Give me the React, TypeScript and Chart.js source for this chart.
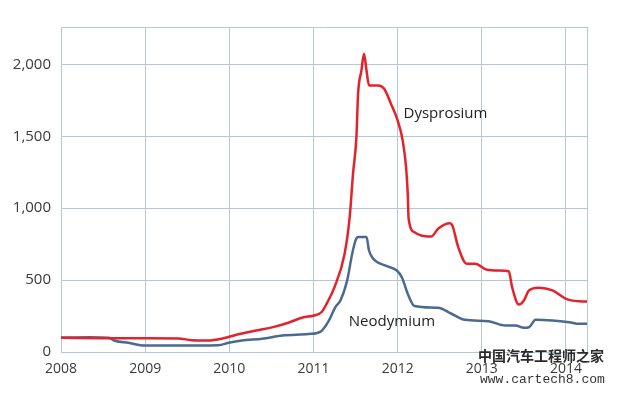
import React, { useEffect, useRef } from "react";
import { Chart, registerables } from "chart.js";

Chart.register(...registerables);

// Dysprosium price (x: year, y: value)
const dyYears = [
  2008.0, 2008.2, 2008.6, 2008.95, 2009.4, 2009.55, 2009.75, 2009.92, 2010.12, 2010.32,
  2010.52, 2010.71, 2010.87, 2011.01, 2011.1, 2011.16, 2011.25, 2011.37, 2011.43, 2011.47,
  2011.51, 2011.53, 2011.57, 2011.6, 2011.63, 2011.66, 2011.77, 2011.84, 2011.92, 2012.0,
  2012.06, 2012.1, 2012.12, 2012.13, 2012.2, 2012.28, 2012.4, 2012.48, 2012.62, 2012.65,
  2012.72, 2012.82, 2012.92, 2013.06, 2013.2, 2013.32, 2013.36, 2013.44, 2013.5, 2013.56,
  2013.68, 2013.84, 2014.0, 2014.16, 2014.28,
];
const dyValues = [
  100, 97, 96, 95, 94, 82, 80, 94, 125, 150,
  173, 205, 240, 254, 280, 340, 451, 683, 938, 1240,
  1494, 1796, 1958, 2074, 1958, 1854, 1854, 1831, 1727, 1610,
  1471, 1286, 1100, 930, 833, 810, 803, 857, 896, 880,
  729, 614, 614, 572, 567, 562, 451, 330, 358, 428,
  447, 428, 370, 353, 351,
];

// Neodymium price
const ndYears = [
  2008.0, 2008.33, 2008.57, 2008.64, 2008.8, 2009.0, 2009.32, 2009.87, 2009.99, 2010.15,
  2010.39, 2010.63, 2010.94, 2011.08, 2011.18, 2011.26, 2011.32, 2011.4, 2011.46, 2011.5,
  2011.53, 2011.63, 2011.66, 2011.71, 2011.85, 2011.99, 2012.05, 2012.12, 2012.2, 2012.48,
  2012.64, 2012.8, 2013.08, 2013.28, 2013.4, 2013.5, 2013.56, 2013.64, 2013.84, 2014.04,
  2014.16, 2014.28,
];
const ndValues = [
  99, 103, 99, 78, 64, 45, 45, 47, 64, 80,
  92, 115, 125, 140, 215, 312, 358, 497, 683, 776,
  799, 799, 706, 648, 602, 567, 520, 405, 320, 307,
  266, 224, 214, 184, 184, 168, 172, 224, 219, 207,
  196, 196,
];

const seriesNames = ["Dysprosium", "Neodymium"];
// label anchor points in data coordinates (year, value)
const labelYears = [2012.07, 2011.42];
const labelValues = [1659, 212];

const xTicks = [2008, 2009, 2010, 2011, 2012, 2013, 2014];
const yTicks = [0, 500, 1000, 1500, 2000];

const xMin = 2008;
const xMax = 2014.25;
const yMax = 2260;

const RED = "#e3232c";
const BLUE = "#4a6a8f";
const GRID = "#b6c8d5";

const labelPlugin = {
  id: "seriesLabels",
  afterDatasetsDraw(chart: any) {
    const { ctx, scales } = chart;
    ctx.save();
    ctx.font = "15px 'Open Sans'";
    ctx.fillStyle = "#222";
    ctx.textAlign = "left";
    ctx.textBaseline = "middle";
    seriesNames.forEach((name, i) => {
      ctx.fillText(name, scales.x.getPixelForValue(labelYears[i]), scales.y.getPixelForValue(labelValues[i]));
    });
    ctx.restore();
  },
};

export default function App() {
  const ref = useRef<HTMLCanvasElement | null>(null);
  useEffect(() => {
    if (!ref.current) return;
    const chart = new Chart(ref.current, {
      type: "line",
      data: {
        datasets: [
          {
            label: seriesNames[0],
            data: dyYears.map((x, i) => ({ x, y: dyValues[i] })),
            borderColor: RED,
            borderWidth: 2.5,
            pointRadius: 0,
            cubicInterpolationMode: "monotone",
            fill: false,
          },
          {
            label: seriesNames[1],
            data: ndYears.map((x, i) => ({ x, y: ndValues[i] })),
            borderColor: BLUE,
            borderWidth: 2.5,
            pointRadius: 0,
            cubicInterpolationMode: "monotone",
            fill: false,
          },
        ],
      },
      options: {
        responsive: false,
        animation: false,
        layout: { padding: { top: 27, right: 33, left: 0, bottom: 0 } },
        plugins: { legend: { display: false }, tooltip: { enabled: false } },
        scales: {
          x: {
            type: "linear",
            min: xMin,
            max: xMax,
            afterBuildTicks: (s: any) => {
              s.ticks = [...xTicks, xMax].map((v) => ({ value: v }));
            },
            afterFit: (s: any) => {
              s.height = 45;
            },
            grid: { color: GRID, lineWidth: 1, drawTicks: false },
            border: { color: GRID },
            ticks: {
              padding: 9,
              color: "#3a3a3a",
              font: { family: "'Open Sans'", size: 14 },
              callback: (v: any) => (xTicks.includes(v) ? String(v) : ""),
              maxRotation: 0,
              autoSkip: false,
            },
          },
          y: {
            min: 0,
            max: yMax,
            afterBuildTicks: (s: any) => {
              s.ticks = [...yTicks, yMax].map((v) => ({ value: v }));
            },
            afterFit: (s: any) => {
              s.width = 61;
            },
            grid: { color: GRID, lineWidth: 1, drawTicks: false },
            border: { color: GRID },
            ticks: {
              padding: 10,
              color: "#3a3a3a",
              font: { family: "'Open Sans'", size: 15 },
              autoSkip: false,
              callback: (v: any) => (yTicks.includes(v) ? Number(v).toLocaleString("en-US") : ""),
            },
          },
        },
      },
      plugins: [labelPlugin],
    });
    return () => chart.destroy();
  }, []);

  return (
    <div style={{ position: "fixed", left: 0, top: 0, width: 620, height: 397, background: "#fff", overflow: "hidden" }}>
      <canvas ref={ref} width={620} height={397} style={{ display: "block" }} />
      <div
        style={{
          position: "absolute",
          left: 478,
          top: 347,
          fontFamily: "'Noto Sans CJK SC'",
          fontSize: 14,
          fontWeight: 700,
          color: "#2a2a2a",
          whiteSpace: "nowrap",
          lineHeight: "16px",
        }}
      >
        中国汽车工程师之家
      </div>
      <div
        style={{
          position: "absolute",
          left: 480,
          top: 372,
          fontFamily: "'Liberation Mono'",
          fontSize: 13,
          color: "#333",
          whiteSpace: "nowrap",
          lineHeight: "16px",
        }}
      >
        www.cartech8.com
      </div>
    </div>
  );
}
